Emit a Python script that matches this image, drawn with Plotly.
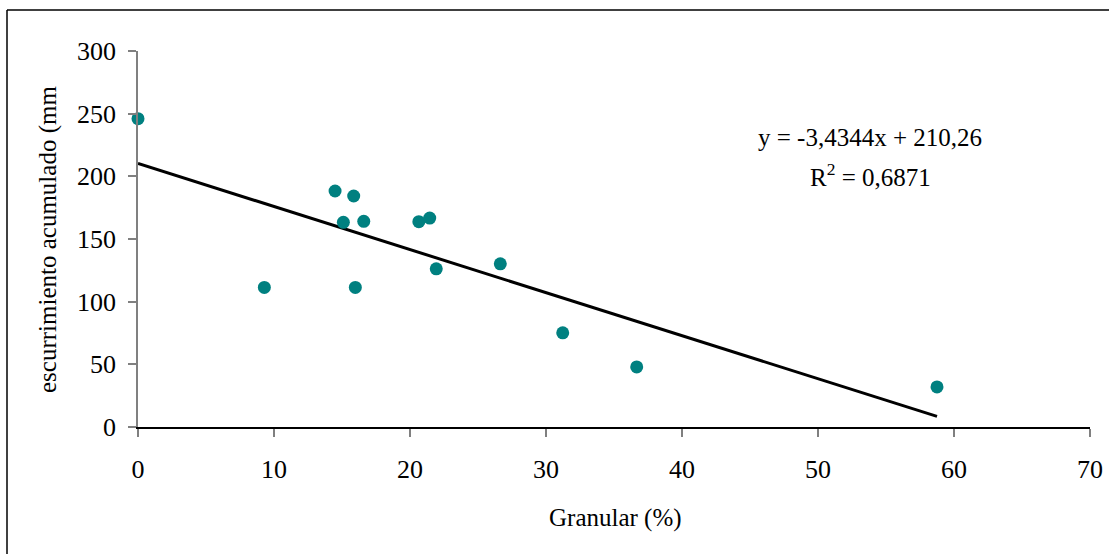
import plotly.graph_objects as go

# Data
granular = [0.0, 9.29, 14.49, 15.10, 15.86, 15.98, 16.60, 20.65, 21.45, 21.93, 26.64, 31.23, 36.67, 58.75]
escurrimiento = [246, 111.4, 188.3, 163.3, 184.3, 111.4, 164.1, 163.8, 166.7, 126.2, 130.2, 75.1, 47.9, 32]

slope = -3.4344
intercept = 210.26
eq_text = "y = -3,4344x + 210,26"
r2_text = "R<sup>2</sup> = 0,6871"

x_ticks = [0, 10, 20, 30, 40, 50, 60, 70]
y_ticks = [0, 50, 100, 150, 200, 250, 300]

x_title = "Granular (%)"
y_title = "escurrimiento acumulado (mm"

FONT = "Liberation Serif, Times New Roman, serif"

trend_x = [min(granular), max(granular)]
trend_y = [slope * v + intercept for v in trend_x]

fig = go.Figure()
fig.add_trace(go.Scatter(x=trend_x, y=trend_y, mode="lines",
                         line=dict(color="black", width=3), showlegend=False))
fig.add_trace(go.Scatter(x=granular, y=escurrimiento, mode="markers",
                         marker=dict(color="#008080", size=13), showlegend=False,
                         cliponaxis=False))

W, H = 1109, 554
# plot area in page pixels
PL, PR, PT, PB = 138, 1090, 51, 427
L, T, R, B = PL, PT, W - PR, H - PB
pw, ph = PR - PL, PB - PT

def px(xp):
    return (xp - PL) / pw

def py(yp):
    return (PB - yp) / ph

frame = dict(color="black", width=1.5)

fig.update_layout(
    width=W, height=H, autosize=False,
    margin=dict(l=L, r=R, t=T, b=B, autoexpand=False),
    paper_bgcolor="white", plot_bgcolor="white",
    font=dict(family=FONT, color="black", size=25),
    xaxis=dict(range=[0, 70], tickvals=x_ticks, showgrid=False, zeroline=False,
               showline=True, linecolor="black", linewidth=1.5,
               ticks="outside", ticklen=8, tickcolor="#808080", tickwidth=1.5,
               tickfont=dict(size=26, family=FONT), ticklabelstandoff=10,
               ticklabeloverflow="allow", automargin=False),
    yaxis=dict(range=[0, 300], tickvals=y_ticks, showgrid=False, zeroline=False,
               showline=True, linecolor="#808080", linewidth=1.5,
               ticks="outside", ticklen=8, tickcolor="#808080", tickwidth=1.5,
               tickfont=dict(size=26, family=FONT), ticklabelstandoff=7,
               ticklabeloverflow="allow", automargin=False),
    shapes=[
        dict(type="line", xref="paper", yref="paper",
             x0=px(7), x1=px(7), y0=py(600), y1=py(10), line=frame, layer="below"),
        dict(type="line", xref="paper", yref="paper",
             x0=px(7), x1=px(1200), y0=py(10), y1=py(10), line=frame, layer="below"),
    ],
    annotations=[
        dict(text=x_title, xref="paper", yref="paper", x=px(615), y=py(518),
             xanchor="center", yanchor="middle", showarrow=False,
             font=dict(size=25, family=FONT)),
        dict(text=y_title, xref="paper", yref="paper", x=px(48), y=py(240),
             xanchor="center", yanchor="middle", showarrow=False, textangle=-90,
             font=dict(size=25, family=FONT)),
        dict(text=eq_text, xref="paper", yref="paper", x=px(870), y=py(137),
             xanchor="center", yanchor="middle", showarrow=False,
             font=dict(size=25, family=FONT)),
        dict(text=r2_text, xref="paper", yref="paper", x=px(870), y=py(175),
             xanchor="center", yanchor="middle", showarrow=False,
             font=dict(size=25, family=FONT)),
    ],
)

fig.write_html("out.html",
               config={"displayModeBar": False},
               post_script="document.body.style.margin='0';"
                           "document.body.style.overflow='hidden';")
